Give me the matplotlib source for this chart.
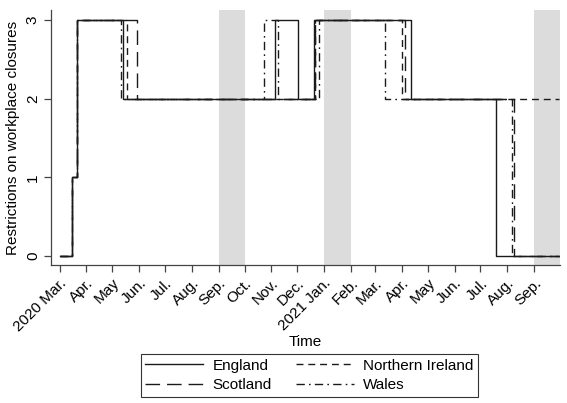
import numpy as np
import pandas as pd
import matplotlib
matplotlib.use("Agg")
import matplotlib.pyplot as plt
import matplotlib.dates as mdates

plt.rcParams['font.family'] = ['Liberation Sans', 'DejaVu Sans']

# change points (date, level) for each nation; each level holds until the next date
england_dates = ["2020-03-01", "2020-03-15", "2020-03-21", "2020-05-13", "2020-11-05",
                 "2020-12-02", "2020-12-20", "2021-04-12", "2021-07-19", "2021-09-30"]
england_vals = [0, 1, 3, 2, 3, 2, 3, 2, 0, 0]

scotland_dates = ["2020-03-01", "2020-03-15", "2020-03-21", "2020-05-29", "2020-12-21",
                  "2021-04-05", "2021-08-09", "2021-09-30"]
scotland_vals = [0, 1, 3, 2, 3, 2, 0, 0]

ni_dates = ["2020-03-01", "2020-03-15", "2020-03-21", "2020-05-18", "2020-12-21",
            "2021-04-01", "2021-09-30"]
ni_vals = [0, 1, 3, 2, 3, 2, 2]

wales_dates = ["2020-03-01", "2020-03-15", "2020-03-21", "2020-05-11", "2020-10-23",
               "2020-11-09", "2020-12-26", "2021-03-13", "2021-08-07", "2021-09-30"]
wales_vals = [0, 1, 3, 2, 3, 2, 3, 2, 0, 0]

shaded = [("2020-09-01", "2020-10-01"), ("2021-01-01", "2021-02-01"), ("2021-09-01", "2021-10-01")]

tick_dates = pd.date_range("2020-03-01", "2021-09-01", freq="MS")
tick_labels = ["2020 Mar.", "Apr.", "May", "Jun.", "Jul.", "Aug.", "Sep.", "Oct.", "Nov.", "Dec.",
               "2021 Jan.", "Feb.", "Mar.", "Apr.", "May", "Jun.", "Jul.", "Aug.", "Sep."]

series = [
    ("England", england_dates, england_vals, "-"),
    ("Scotland", scotland_dates, scotland_vals, (0, (10.5, 5))),
    ("Northern Ireland", ni_dates, ni_vals, (0, (5, 3.5))),
    ("Wales", wales_dates, wales_vals, (0, (6, 3, 1.2, 3))),
]

fs = 11

fig = plt.figure(figsize=(5.67, 4.03), dpi=100)
ax = fig.add_axes([51 / 567, 1 - 265 / 403, (560 - 51) / 567, (265 - 10) / 403])

for a, b in shaded:
    ax.axvspan(pd.Timestamp(a), pd.Timestamp(b), color="#dcdcdd", lw=0, zorder=0)

handles = []
for name, d, v, ls in series:
    h, = ax.step(pd.to_datetime(d), v, where="post", color="#1a1a1a", lw=1.0,
                 linestyle=ls, label=name, zorder=2)
    handles.append(h)

ax.set_xlim(pd.Timestamp("2020-02-20"), pd.Timestamp("2021-10-01"))
ax.set_ylim(-0.115, 3.13)

ax.set_xticks(tick_dates)
ax.set_xticklabels(tick_labels, rotation=45, ha="right", rotation_mode="anchor", fontsize=fs)
ax.set_yticks([0, 1, 2, 3])
ax.set_yticklabels(["0", "1", "2", "3"], rotation=90, va="center", fontsize=fs)

for s in ["top", "right"]:
    ax.spines[s].set_visible(False)
for s in ["left", "bottom"]:
    ax.spines[s].set_color("#444444")
    ax.spines[s].set_linewidth(0.9)
ax.tick_params(axis="both", length=5, width=0.9, color="#444444", pad=3)

ax.set_ylabel("Restrictions on workplace closures", fontsize=fs, labelpad=4)
ax.set_xlabel("Time", fontsize=fs, labelpad=1)

leg = fig.legend(handles=handles, ncol=2, loc="upper center",
                 bbox_to_anchor=(309.5 / 567, 1 - 354 / 403), fontsize=fs,
                 frameon=True, fancybox=False, handlelength=3.8, handletextpad=0.6,
                 columnspacing=1.6, labelspacing=0.35, borderpad=0.3, borderaxespad=0)
leg.get_frame().set_edgecolor("black")
leg.get_frame().set_linewidth(0.8)

fig.savefig("out.png", dpi=100)
